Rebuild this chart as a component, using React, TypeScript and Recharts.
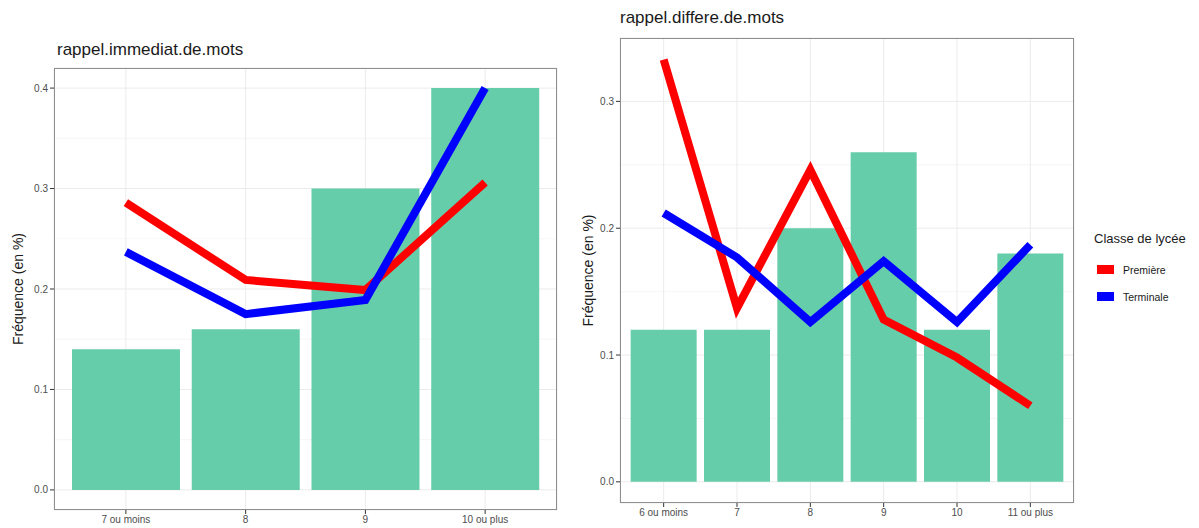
import { ComposedChart, Bar, Line, XAxis, YAxis, CartesianGrid, Label } from "recharts";

const catsImm = ["7 ou moins", "8", "9", "10 ou plus"];
const barsImm = [0.14, 0.16, 0.3, 0.4];
const premImm = [0.286, 0.209, 0.199, 0.306];
const termImm = [0.237, 0.175, 0.189, 0.4];
const ticksImm = [0, 0.1, 0.2, 0.3, 0.4];
const minorImm = [0.05, 0.15, 0.25, 0.35];

const catsDiff = ["6 ou moins", "7", "8", "9", "10", "11 ou plus"];
const barsDiff = [0.12, 0.12, 0.2, 0.26, 0.12, 0.18];
const premDiff = [0.333, 0.137, 0.246, 0.128, 0.098, 0.06];
const termDiff = [0.212, 0.177, 0.126, 0.174, 0.126, 0.187];
const ticksDiff = [0, 0.1, 0.2, 0.3];
const minorDiff = [0.05, 0.15, 0.25];

const legendItems = [
  { name: "Première", color: "#FF0000" },
  { name: "Terminale", color: "#0000FF" },
];

const font = "'Liberation Sans', Arial, sans-serif";
const tickStyle = { fontSize: 10, fill: "#4D4D4D", fontFamily: font };
const borderColor = "#8f8f8f";

const yTitle = (xPos: number) => (props: any) => {
  const vb = props.viewBox;
  const cy = vb.y + vb.height / 2;
  return (
    <text x={xPos} y={cy} transform={`rotate(-90 ${xPos} ${cy})`} textAnchor="middle" dominantBaseline="central" fontSize={14} fill="#1a1a1a" fontFamily={font}>
      Fréquence (en %)
    </text>
  );
};

type PanelProps = {
  cats: string[];
  bars: number[];
  prem: number[];
  term: number[];
  ticks: number[];
  minor: number[];
  domain: [number, number];
  width: number;
  height: number;
  margin: { top: number; right: number; bottom: number; left: number };
  yWidth: number;
  xHeight: number;
  pad: number;
  titleX: number;
};

function Panel(p: PanelProps) {
  const data = p.cats.map((c, i) => ({ cat: c, freq: p.bars[i], prem: p.prem[i], term: p.term[i] }));
  const plotW = p.width - p.margin.left - p.margin.right - p.yWidth;
  const plotH = p.height - p.margin.top - p.margin.bottom - p.xHeight;
  return (
    <div style={{ position: "relative", width: p.width, height: p.height }}>
      <ComposedChart width={p.width} height={p.height} data={data} margin={p.margin} barCategoryGap="5%">
        <CartesianGrid horizontalValues={p.minor} vertical={false} stroke="#F2F2F2" strokeWidth={0.7} />
        <CartesianGrid stroke="#EBEBEB" strokeWidth={1} />
        <XAxis dataKey="cat" height={p.xHeight} padding={{ left: p.pad, right: p.pad }} tick={tickStyle} tickSize={4} tickMargin={2} tickLine={{ stroke: "#333" }} axisLine={false} interval={0} />
        <YAxis type="number" domain={p.domain} ticks={p.ticks} allowDataOverflow width={p.yWidth} tick={tickStyle} tickSize={4} tickMargin={2} tickLine={{ stroke: "#333" }} axisLine={false} tickFormatter={(v: number) => v.toFixed(1)}>
          <Label content={yTitle(p.titleX)} />
        </YAxis>
        <Bar dataKey="freq" fill="#66CDAA" isAnimationActive={false} />
        <Line dataKey="prem" stroke="#FF0000" strokeWidth={8} dot={false} activeDot={false} isAnimationActive={false} />
        <Line dataKey="term" stroke="#0000FF" strokeWidth={8} dot={false} activeDot={false} isAnimationActive={false} />
      </ComposedChart>
      <div style={{ position: "absolute", left: p.margin.left + p.yWidth, top: p.margin.top, width: plotW, height: plotH, boxSizing: "border-box", border: `1px solid ${borderColor}`, pointerEvents: "none" }} />
    </div>
  );
}

export default function App() {
  return (
    <div style={{ position: "absolute", left: 0, top: 0, width: 1199, height: 528, background: "#fff", fontFamily: font }}>
      <div style={{ position: "absolute", left: 0, top: 0 }}>
        <Panel cats={catsImm} bars={barsImm} prem={premImm} term={termImm} ticks={ticksImm} minor={minorImm}
          domain={[-0.02, 0.42]} width={575} height={528} margin={{ top: 68, right: 18, bottom: 0, left: 0 }}
          yWidth={54} xHeight={18} pad={12} titleX={18} />
      </div>
      <div style={{ position: "absolute", left: 560, top: 0 }}>
        <Panel cats={catsDiff} bars={barsDiff} prem={premDiff} term={termDiff} ticks={ticksDiff} minor={minorDiff}
          domain={[-0.0167, 0.35]} width={639} height={528} margin={{ top: 38, right: 125, bottom: 0, left: 0 }}
          yWidth={60} xHeight={25} pad={7} titleX={28} />
      </div>
      <div style={{ position: "absolute", left: 57, top: 40, fontSize: 17, color: "#1a1a1a" }}>rappel.immediat.de.mots</div>
      <div style={{ position: "absolute", left: 620, top: 8, fontSize: 17, color: "#1a1a1a" }}>rappel.differe.de.mots</div>
      <div style={{ position: "absolute", left: 1094, top: 231 }}>
        <div style={{ fontSize: 13, color: "#1a1a1a", marginBottom: 10 }}>Classe de lycée</div>
        {legendItems.map((it) => (
          <div key={it.name} style={{ display: "flex", alignItems: "center", height: 27 }}>
            <div style={{ width: 17, height: 9, background: it.color, marginLeft: 3, marginRight: 9 }} />
            <span style={{ fontSize: 10.5, color: "#1a1a1a" }}>{it.name}</span>
          </div>
        ))}
      </div>
    </div>
  );
}
